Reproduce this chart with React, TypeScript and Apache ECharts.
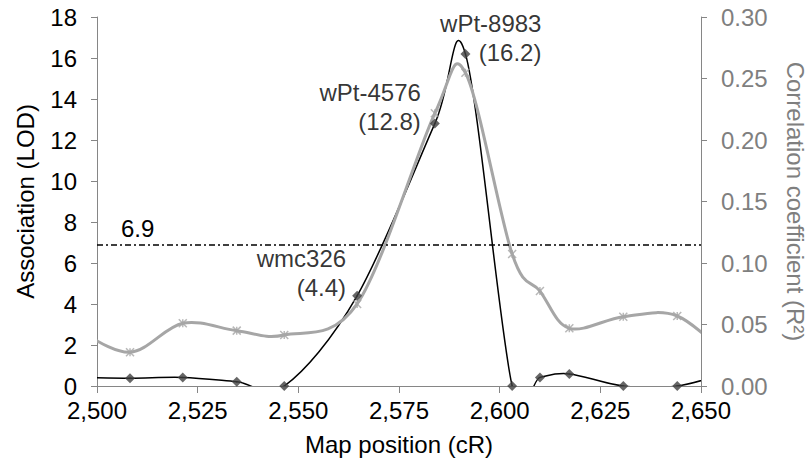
import React, { useEffect, useRef } from 'react';
import * as echarts from 'echarts';

// Marker positions along the map (cR); the first and last lie just outside the shown window
const positions = [2495.0, 2508.2, 2521.3, 2534.7, 2546.5, 2564.6, 2583.9, 2591.5, 2603.1, 2610.0, 2617.3, 2630.7, 2644.1, 2657.5];
// Association score (LOD) at each position
const lod = [0.42, 0.38, 0.42, 0.21, 0.0, 4.4, 12.8, 16.2, 0.0, 0.42, 0.59, 0.0, 0.0, 0.7];
// Correlation coefficient (R²) at each position
const r2 = [0.046, 0.0274, 0.051, 0.045, 0.0415, 0.0667, 0.2217, 0.2547, 0.1073, 0.0772, 0.0469, 0.0563, 0.0569, 0.022];
// Marker names shown next to their points
const markerNames = ['', '', '', '', '', 'wmc326', 'wPt-4576', 'wPt-8983', '', '', '', '', '', ''];
// Significance threshold (LOD)
const threshold = 6.9;

const X_MIN = 2500;
const X_MAX = 2650;

const FONT = '"Liberation Sans", Arial, sans-serif';
const AXIS_GRAY = '#868686';
const TEXT_GRAY = '#7f7f7f';
const R2_GRAY = '#a6a6a6';

// Where each named label sits relative to its diamond
const labelOffsets: Record<string, [number, number]> = {
  'wmc326': [-11, 6],
  'wPt-4576': [-14, 12],
  'wPt-8983': [76, 13],
};

// Smoothed curve through the points: one cubic Bezier per segment,
// control points taken from the neighbouring points (Catmull-Rom, tension 1/6).
function smoothCurve(values: number[], yAxisIndex: number, color: string, width: number, z: number) {
  const n = positions.length;
  return {
    type: 'custom',
    yAxisIndex,
    z,
    silent: true,
    data: positions.map((x, i) => [x, values[i]]),
    renderItem: (params: any, api: any) => {
      const i = params.dataIndex;
      if (i >= n - 1) return { type: 'group', children: [] };
      const pt = (k: number) => api.coord([positions[k], values[k]]);
      const p0 = pt(Math.max(i - 1, 0));
      const p1 = pt(i);
      const p2 = pt(i + 1);
      const p3 = pt(Math.min(i + 2, n - 1));
      const cs = params.coordSys;
      return {
        type: 'group',
        clipPath: { type: 'rect', shape: { x: cs.x, y: cs.y, width: cs.width, height: cs.height } },
        children: [
          {
            type: 'bezierCurve',
            shape: {
              x1: p1[0],
              y1: p1[1],
              x2: p2[0],
              y2: p2[1],
              cpx1: p1[0] + (p2[0] - p0[0]) / 6,
              cpy1: p1[1] + (p2[1] - p0[1]) / 6,
              cpx2: p2[0] - (p3[0] - p1[0]) / 6,
              cpy2: p2[1] - (p3[1] - p1[1]) / 6,
            },
            style: { stroke: color, lineWidth: width, fill: 'none', lineCap: 'round' },
          },
        ],
      };
    },
  };
}

export default function App() {
  const ref = useRef<HTMLDivElement>(null);

  useEffect(() => {
    const chart = echarts.init(ref.current!, null, { renderer: 'svg' });

    const inRange = positions
      .map((x, i) => ({ x, i }))
      .filter(({ x }) => x >= X_MIN && x <= X_MAX);

    const diamonds = inRange.map(({ x, i }) => {
      const name = markerNames[i];
      const item: any = { value: [x, lod[i]], name };
      if (name) {
        item.label = {
          show: true,
          position: 'inside',
          align: 'right',
          verticalAlign: 'bottom',
          offset: labelOffsets[name],
          formatter: () => `${name}\n(${lod[i].toFixed(1)})`,
          color: '#000',
          fontSize: 24,
          lineHeight: 29,
          fontFamily: FONT,
        };
      }
      return item;
    });

    const stars = inRange.map(({ x, i }) => [x, r2[i]]);

    chart.setOption({
      animation: false,
      backgroundColor: '#fff',
      textStyle: { fontFamily: FONT },
      grid: { left: 97, right: 107, top: 17, bottom: 81, containLabel: false, outerBoundsMode: 'none' },
      xAxis: {
        type: 'value',
        min: X_MIN,
        max: X_MAX,
        interval: 25,
        name: 'Map position (cR)',
        nameLocation: 'middle',
        nameGap: 46,
        nameTextStyle: { color: '#000', fontSize: 24, fontFamily: FONT },
        axisLine: { show: true, onZero: false, lineStyle: { color: AXIS_GRAY, width: 1 } },
        axisTick: { show: true, inside: false, length: 7, lineStyle: { color: AXIS_GRAY } },
        axisLabel: {
          color: '#000',
          fontSize: 24,
          fontFamily: FONT,
          margin: 12,
          formatter: (v: number) => v.toLocaleString('en-US'),
        },
        splitLine: { show: false },
      },
      yAxis: [
        {
          type: 'value',
          min: 0,
          max: 18,
          interval: 2,
          position: 'left',
          name: 'Association (LOD)',
          nameLocation: 'middle',
          nameGap: 60,
          nameTextStyle: { color: '#000', fontSize: 24, fontFamily: FONT },
          axisLine: { show: true, lineStyle: { color: AXIS_GRAY, width: 1 } },
          axisTick: { show: true, inside: false, length: 6, lineStyle: { color: AXIS_GRAY } },
          axisLabel: { color: '#000', fontSize: 24, fontFamily: FONT, margin: 20 },
          splitLine: { show: false },
        },
        {
          type: 'value',
          min: 0,
          max: 0.3,
          interval: 0.05,
          position: 'right',
          name: 'Correlation coefficient (R²)',
          nameLocation: 'middle',
          nameRotate: -90,
          nameGap: 82,
          nameTextStyle: { color: TEXT_GRAY, fontSize: 24, fontFamily: FONT },
          axisLine: { show: true, lineStyle: { color: AXIS_GRAY, width: 1 } },
          axisTick: { show: true, inside: false, length: 6, lineStyle: { color: AXIS_GRAY } },
          axisLabel: {
            color: TEXT_GRAY,
            fontSize: 24,
            fontFamily: FONT,
            margin: 20,
            formatter: (v: number) => v.toFixed(2),
          },
          splitLine: { show: false },
        },
      ],
      series: [
        smoothCurve(lod, 0, '#000', 1.5, 2),
        smoothCurve(r2, 1, R2_GRAY, 3, 3),
        {
          name: 'R2 markers',
          type: 'scatter',
          yAxisIndex: 1,
          data: stars,
          symbol: 'path://M0,0L10,10M10,0L0,10M5,0L5,10',
          symbolSize: 8,
          z: 4,
          silent: true,
          itemStyle: { color: R2_GRAY, borderColor: R2_GRAY, borderWidth: 1.5 },
        },
        {
          name: 'LOD markers',
          type: 'scatter',
          yAxisIndex: 0,
          data: diamonds,
          symbol: 'diamond',
          symbolSize: 10,
          z: 5,
          silent: true,
          itemStyle: { color: '#404040', borderWidth: 0 },
          markLine: {
            silent: true,
            symbol: 'none',
            data: [{ yAxis: threshold }],
            lineStyle: { color: '#000', width: 1.5, type: [6, 3, 2, 3] },
            label: {
              show: true,
              position: 'insideStartTop',
              formatter: threshold.toFixed(1),
              color: '#000',
              fontSize: 24,
              fontFamily: FONT,
              padding: [0, 0, 0, 20],
              distance: 4,
            },
          },
        },
      ],
    });

    return () => chart.dispose();
  }, []);

  return (
    <div
      ref={ref}
      style={{ position: 'fixed', left: 0, top: 0, width: 808, height: 467 }}
    />
  );
}
